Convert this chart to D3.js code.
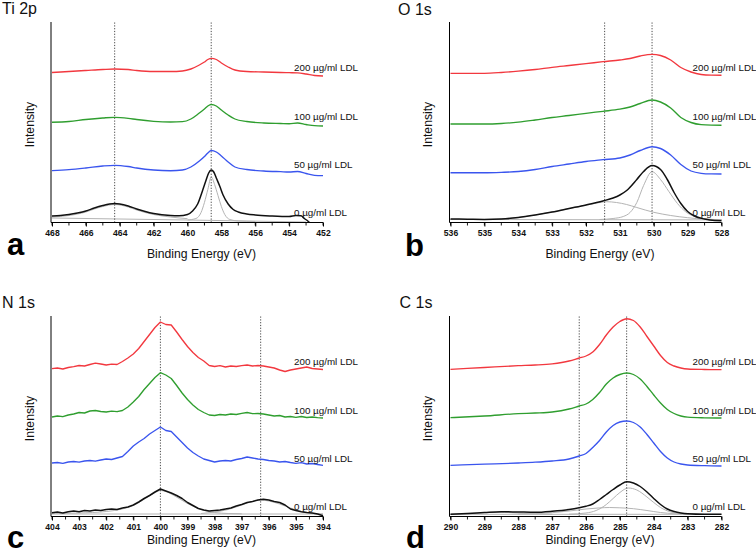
<!DOCTYPE html>
<html><head><meta charset="utf-8">
<script src="https://cdn.jsdelivr.net/npm/d3@7/dist/d3.min.js"></script>
<style>
html,body{margin:0;padding:0;background:#fff;}
svg{display:block;font-family:"Liberation Sans",Arial,sans-serif;}
</style></head><body>
<svg id="chart" width="756" height="555"></svg>
<script>
// ---------- shared labels ----------
const seriesLabels = ["200 µg/ml LDL", "100 µg/ml LDL", "50 µg/ml LDL", "0 µg/ml LDL"];
const labelLevels = [155, 106, 58, 10.5];
const seriesColors = ["#f2383f", "#2f9e2f", "#3a55ee", "#111111"];

// ---------- Ti 2p ----------
const tiTicks = [468, 466, 464, 462, 460, 458, 456, 454, 452];
const tiGuides = [464.3, 458.6];
const tiRed = [[468,150],[467,151],[466,152],[465,153],[464.3,153.5],[463.5,153],[463,152],[462,151],[461,151],[460.3,151.5],[459.8,153.5],[459.3,157.5],[459,160.5],[458.8,163],[458.6,164.2],[458.3,163],[458,159.5],[457.6,155.5],[457.2,152.5],[456.5,151],[455.5,150.5],[454.5,150],[454,149.8],[453.5,149.6],[453,148.5],[452.5,147],[452,146.5]];
const tiGreen = [[468,100.2],[467,101],[466,103],[465,104.5],[464.3,105.2],[463.5,104.2],[463,103],[462,101.2],[461,100.5],[460.3,100.8],[459.8,103.5],[459.3,109.5],[459,113.5],[458.8,116.5],[458.6,118],[458.3,116.5],[458,112.5],[457.6,107.5],[457.2,103.5],[456.5,101],[455.5,99.5],[454.5,99],[454,98.8],[453.5,99.5],[453,98],[452.5,96.8],[452,96.5]];
const tiBlue = [[468,51.8],[467,52.8],[466,54.5],[465,56.5],[464.3,57.2],[463.5,56],[463,54.5],[462,52.5],[461,51.8],[460.3,52.5],[459.8,55.5],[459.3,61.5],[459,66],[458.8,69.5],[458.6,72],[458.3,70.5],[458,66.5],[457.6,60.5],[457.2,55.5],[456.5,53],[455.5,51.5],[454.5,50.8],[454,50.5],[453.5,51],[453,49],[452.5,47.2],[452,46.8]];
const tiBlack = [[468,6.5],[467.5,7],[467,8],[466.5,9.5],[466,11.5],[465.5,14.5],[465,17],[464.6,18.5],[464.3,19],[464,18.5],[463.5,16.5],[463,13.5],[462.5,11],[462,9],[461,7],[460.5,6.8],[460,8],[459.7,11.5],[459.4,18.5],[459.1,32.5],[458.9,42.5],[458.75,49.5],[458.6,52.5],[458.45,50.5],[458.3,44.5],[458.1,36.5],[457.9,27.5],[457.6,18.5],[457.3,13],[457,10.5],[456.5,8.5],[456,7.5],[455,6.5],[454,6],[453.6,7],[453.3,6.7],[453.1,4],[452.9,1.5],[452.8,0]];
const tiFitBg = [[468,4.5],[460,2.5],[453,0.5]];
const tiFit1 = [[468,5.5],[467,7],[466,10.5],[465.5,13.5],[465,16],[464.3,18],[463.5,15.5],[463,12.5],[462.5,10],[462,8],[461,5.5],[460,3.8]];
const tiFit2 = [[460,2.5],[459.5,4],[459.2,10],[459,20],[458.8,33],[458.6,45.5],[458.4,38],[458.2,27],[458,16],[457.8,8],[457.5,3],[457,1.5],[456,1]];

// ---------- O 1s ----------
const oTicks = [536, 535, 534, 533, 532, 531, 530, 529, 528];
const oGuides = [531.45, 530.05];
const oRed = [[536,149.2],[535,149.2],[534.5,150],[534,151.3],[533.5,153],[533,155.2],[532.5,157],[532,158.8],[531.5,160.8],[531,162.5],[530.7,164],[530.4,166.5],[530.05,168.2],[529.8,167],[529.5,162.5],[529.2,155],[528.9,150.5],[528.6,148],[528.3,147.3],[528,147.2]];
const oGreen = [[536,98.5],[535,98.5],[534.5,99],[534,100.3],[533.5,102.5],[533,105],[532.5,107],[532,109.2],[531.5,111.2],[531,113.3],[530.7,115.5],[530.4,119],[530.05,122.5],[529.8,120.5],[529.5,114.5],[529.2,105],[528.9,100],[528.6,97.8],[528.3,97.3],[528,97.2]];
const oBlue = [[536,49.8],[535,49.8],[534.5,50.2],[534,51],[533.5,53],[533,56],[532.5,58.5],[532,61],[531.5,62.8],[531,64.5],[530.7,67.5],[530.4,72],[530.05,75.8],[529.8,74],[529.5,67.5],[529.2,58],[528.9,51.5],[528.6,49.2],[528.3,48.6],[528,48.5]];
const oBlack = [[536,3.5],[535.5,3.3],[535,3.1],[534.5,3.5],[534,5],[533.5,7.5],[533,10.5],[532.5,14],[532,17.5],[531.5,21.5],[531.2,24.5],[531,27.5],[530.8,32],[530.5,43],[530.3,51],[530.05,57],[529.8,53],[529.6,43],[529.4,30],[529.2,19],[529,11],[528.8,6.5],[528.5,3.5],[528.2,2],[528,1.8]];
const oFitBg = [[536,3],[528,2.6]];
const oFit1 = [[536,3],[535,3],[534.5,3.5],[534,5],[533.5,7.5],[533,10.5],[532.5,14],[532,17.3],[531.7,19.3],[531.4,20.8],[531.1,20],[530.8,18],[530.5,15],[530,10.2],[529.5,7],[529,4.8],[528.5,3.3],[528,2.8]];
const oFit2 = [[531.6,3],[531.2,4],[530.9,6],[530.7,10],[530.5,20],[530.3,37],[530.05,50.8],[529.8,43],[529.55,30.8],[529.3,19],[529.06,10.8],[528.8,6],[528.5,3.5],[528,2.8]];

// ---------- N 1s ----------
const nTicks = [404, 403, 402, 401, 400, 399, 398, 397, 396, 395, 394];
const nGuides = [400.0, 396.3];
const nEnergy = [404.0,403.8,403.6,403.4,403.2,403.0,402.8,402.6,402.4,402.2,402.0,401.8,401.6,401.4,401.2,401.0,400.8,400.6,400.4,400.2,400.0,399.8,399.6,399.4,399.2,399.0,398.8,398.6,398.4,398.2,398.0,397.8,397.6,397.4,397.2,397.0,396.8,396.6,396.4,396.2,396.0,395.8,395.6,395.4,395.2,395.0,394.8,394.6,394.4,394.2,394.0];
const nRed = [147.8,148.5,147.5,149,149.8,151,150.5,152,153.3,152.5,151.5,152.3,152,155,158.5,162.5,168,175,182,189,194.5,192,191.5,184.5,177,170,164,159,155.5,151,150,150.8,149.5,150.5,150,150.8,151.5,150.5,151,150.5,149.5,148.5,146.5,145,146.5,147.5,148.5,149.5,148,147.5,147];
const nGreen = [99.5,100.5,99.8,101.5,102.5,104,103.5,105.5,106,105,104.5,105.3,104.8,106,109.5,114.5,120,127,133,139,143.8,141.5,138,131,123.5,117,111.5,107,104,101.5,101,102,101.5,102.5,102,103.2,104,102.8,103,102.5,101.5,100.5,101,99.5,100,99.2,100,99,99.5,98.8,98.5];
const nBlue = [53.5,54,53.2,54.5,55,54.3,55.5,56,55.3,56.5,57.5,57,58.5,60,65,70.5,74.5,78,82.5,86,89.5,86,85,79.5,74,68.5,64,60.5,57.5,56,54.5,55.5,56,55.5,57,58,59.5,58.5,57.5,57,56,55.5,54.5,55,54,53.2,53.8,52.5,53,52,51.2];
const nBlack = [3.8,4.5,3.5,4.8,5.5,4.8,6,5.5,6.5,6,7,7.5,7,8.5,9.5,11.5,14.5,18,21,24.5,27.5,25.5,23.5,21,18,14,11,8,6.5,5.5,6,6.5,7.5,8.5,10.5,12,14,15,16.5,17.2,16.5,15,14,11.5,7.5,6,4.8,4,3.5,2.5,0.8];
const nFitBg = [[404,2.5],[394,2.5]];
const nFit1 = [[404,3],[403,3.5],[402,5],[401.5,7],[401,11],[400.5,19],[400.2,24],[400,26],[399.8,25],[399.5,21],[399,13],[398.5,7],[398,4],[397.5,3],[397,2.7]];
const nFit2 = [[398.5,3],[398,4.5],[397.5,7],[397,11.5],[396.6,15],[396.3,16.5],[396,15.5],[395.6,12.5],[395.2,8.5],[394.8,5],[394.4,3],[394,2.5]];

// ---------- C 1s ----------
const cTicks = [290, 289, 288, 287, 286, 285, 284, 283, 282];
const cGuides = [286.2, 284.8];
const cRed = [[290,147.2],[289,149],[288,150.8],[287.5,151.5],[287,152.7],[286.5,155.5],[286.2,158.5],[286,160.5],[285.8,164.5],[285.6,172],[285.4,181.5],[285.2,189.5],[285,195],[284.8,197.8],[284.6,196],[284.4,189.5],[284.2,180],[284,170.5],[283.8,161],[283.6,154],[283.4,150.5],[283.2,148.5],[283,147.5],[282.5,147],[282,146.8]];
const cGreen = [[290,98.8],[289,100.5],[288,102.8],[287.5,103.5],[287,104.5],[286.5,107.5],[286.2,110.5],[286,112.5],[285.8,117],[285.6,124],[285.4,132.5],[285.2,138.5],[285,142],[284.8,143.5],[284.6,142],[284.4,137.5],[284.2,130],[284,121.5],[283.8,113.5],[283.6,107],[283.4,103],[283.2,100.5],[283,99.3],[282.5,98.7],[282,98.5]];
const cBlue = [[290,51.2],[289,52.3],[288,53.5],[287.5,54.3],[287,55.5],[286.5,57.5],[286.2,60.5],[286,63],[285.8,69],[285.6,76],[285.4,84.5],[285.2,91],[285,94.5],[284.8,95.5],[284.6,94],[284.4,89.5],[284.2,82],[284,73.5],[283.8,65],[283.6,58.5],[283.4,54.5],[283.2,52.5],[283,51.5],[282.5,50.8],[282,50.5]];
const cBlack = [[290,2.3],[289.5,3],[289,4],[288.5,4.8],[288,4.5],[287.5,4.2],[287,5.2],[286.5,7],[286.2,8.8],[286,10.3],[285.8,12.5],[285.6,17],[285.4,22],[285.2,27],[285,31.5],[284.8,34.8],[284.6,33.5],[284.4,30],[284.2,24.5],[284,18],[283.8,12],[283.6,7.5],[283.4,5],[283.2,3.5],[283,2.7],[282.5,2.2],[282,2.2]];
const cFitBg = [[290,2.2],[282,2.2]];
const cFit1 = [[286.5,2.3],[286,3.5],[285.7,6],[285.4,12],[285.2,18],[285,24],[284.75,28.5],[284.5,26.5],[284.2,19.5],[284,14],[283.8,9],[283.5,4.5],[283.2,2.8],[283,2.3]];
const cFit2 = [[288,2.3],[287,3.8],[286.5,5.5],[286,7.5],[285.6,8.6],[285.3,9],[285,8.7],[284.6,7.8],[284.2,6],[283.8,4],[283.4,2.8],[283,2.3]];
const cFit3 = [[290,2.2],[289.5,2.8],[289,3.8],[288.6,4.3],[288.2,3.8],[287.8,3],[287.4,2.4],[287,2.2]];

// ---------- layout ----------
const pairs = (e, v) => e.map((x, i) => [x, v[i]]);
const panels = [
  {title:"Ti 2p", tx:2, ty:14, letter:"a", lx:7, ly:255, left:52, right:323, top:22.5, axisY:222.5,
   domain:[468,452], ticks:tiTicks, minorStep:1, guides:tiGuides,
   series:[tiRed, tiGreen, tiBlue, tiBlack], fits:[tiFitBg, tiFit1, tiFit2], curve:d3.curveMonotoneX, xTitleY:258},
  {title:"O 1s", tx:398, ty:14.5, letter:"b", lx:405, ly:256, left:450.5, right:721.5, top:22.5, axisY:222.5,
   domain:[536,528], ticks:oTicks, minorStep:0.5, guides:oGuides,
   series:[oRed, oGreen, oBlue, oBlack], fits:[oFitBg, oFit1, oFit2], curve:d3.curveMonotoneX, xTitleY:258},
  {title:"N 1s", tx:2, ty:307.5, letter:"c", lx:7, ly:548, left:52, right:323, top:316.5, axisY:516.5,
   domain:[404,394], ticks:nTicks, minorStep:0.5, guides:nGuides,
   series:[pairs(nEnergy,nRed), pairs(nEnergy,nGreen), pairs(nEnergy,nBlue), pairs(nEnergy,nBlack)],
   fits:[nFitBg, nFit1, nFit2], curve:d3.curveLinear, xTitleY:544},
  {title:"C 1s", tx:399.5, ty:307.5, letter:"d", lx:406, ly:548, left:450.5, right:721.5, top:316.5, axisY:516.5,
   domain:[290,282], ticks:cTicks, minorStep:0.5, guides:cGuides,
   series:[cRed, cGreen, cBlue, cBlack], fits:[cFitBg, cFit1, cFit2, cFit3], curve:d3.curveMonotoneX, xTitleY:544}
];

const svg = d3.select("#chart");

panels.forEach(p => {
  const g = svg.append("g");
  const x = d3.scaleLinear().domain(p.domain).range([p.left, p.right]);
  const y = d3.scaleLinear().domain([0, 200]).range([p.axisY, p.top]);
  const line = d3.line().x(d => x(d[0])).y(d => y(d[1]));

  // fit components (gray)
  p.fits.forEach(f => {
    g.append("path").attr("d", line.curve(d3.curveMonotoneX)(f))
      .attr("fill", "none").attr("stroke", "#b4b4b4").attr("stroke-width", 1);
  });

  // guide lines
  p.guides.forEach(e => {
    g.append("line").attr("x1", x(e)).attr("x2", x(e)).attr("y1", y(200)).attr("y2", y(0))
      .attr("stroke", "#333").attr("stroke-width", 0.9).attr("stroke-dasharray", "1.2,1.6");
  });

  // spectra
  p.series.forEach((s, i) => {
    g.append("path").attr("d", line.curve(p.curve)(s))
      .attr("fill", "none").attr("stroke", seriesColors[i])
      .attr("stroke-width", i === 3 ? 1.5 : 1.35).attr("stroke-linejoin", "round");
  });

  // series labels
  seriesLabels.forEach((t, i) => {
    g.append("text").attr("x", p.right - 29).attr("y", y(labelLevels[i]) + 3.5)
      .attr("font-size", "9.8px").attr("fill", "#111").text(t);
  });

  // x axis
  const minor = d3.range(p.domain[1], p.domain[0] + 1e-9, p.minorStep);
  const ax = g.append("g").attr("transform", `translate(0,${p.axisY})`);
  ax.append("line").attr("x1", p.left - 1).attr("x2", p.right).attr("y1", 0).attr("y2", 0)
    .attr("stroke", "#000").attr("stroke-width", 1);
  ax.selectAll(".mn").data(minor).enter().append("line")
    .attr("x1", d => x(d)).attr("x2", d => x(d)).attr("y1", 0).attr("y2", 3)
    .attr("stroke", "#000").attr("stroke-width", 0.9);
  const axis = d3.axisBottom(x).tickValues(p.ticks).tickSize(4).tickPadding(3).tickFormat(d3.format("d"));
  const axg = ax.append("g").call(axis);
  axg.select(".domain").remove();
  axg.selectAll("line").attr("stroke", "#000");
  axg.selectAll("text").attr("font-size", "8.6px").attr("font-weight", "bold")
    .attr("fill", "#111").attr("font-family", "'Liberation Sans',Arial,sans-serif");

  // y axis line
  g.append("line").attr("x1", p.left - 1).attr("x2", p.left - 1).attr("y1", p.top - 0.5).attr("y2", p.axisY)
    .attr("stroke", "#000").attr("stroke-width", 1);

  // axis titles
  g.append("text").attr("x", (p.left + p.right) / 2 + 14).attr("y", p.xTitleY)
    .attr("text-anchor", "middle").attr("font-size", "12.2px").attr("fill", "#111").text("Binding Energy (eV)");
  g.append("text").attr("transform", `translate(${p.left - 18.5},${(p.top + p.axisY) / 2 + 2}) rotate(-90)`)
    .attr("text-anchor", "middle").attr("font-size", "12.2px").attr("fill", "#111").text("Intensity");

  // panel title and letter
  g.append("text").attr("x", p.tx).attr("y", p.ty).attr("font-size", "16px").attr("fill", "#111").text(p.title);
  g.append("text").attr("x", p.lx).attr("y", p.ly).attr("font-size", "31px").attr("font-weight", "bold")
    .attr("fill", "#000").text(p.letter);
});
</script>
</body></html>
